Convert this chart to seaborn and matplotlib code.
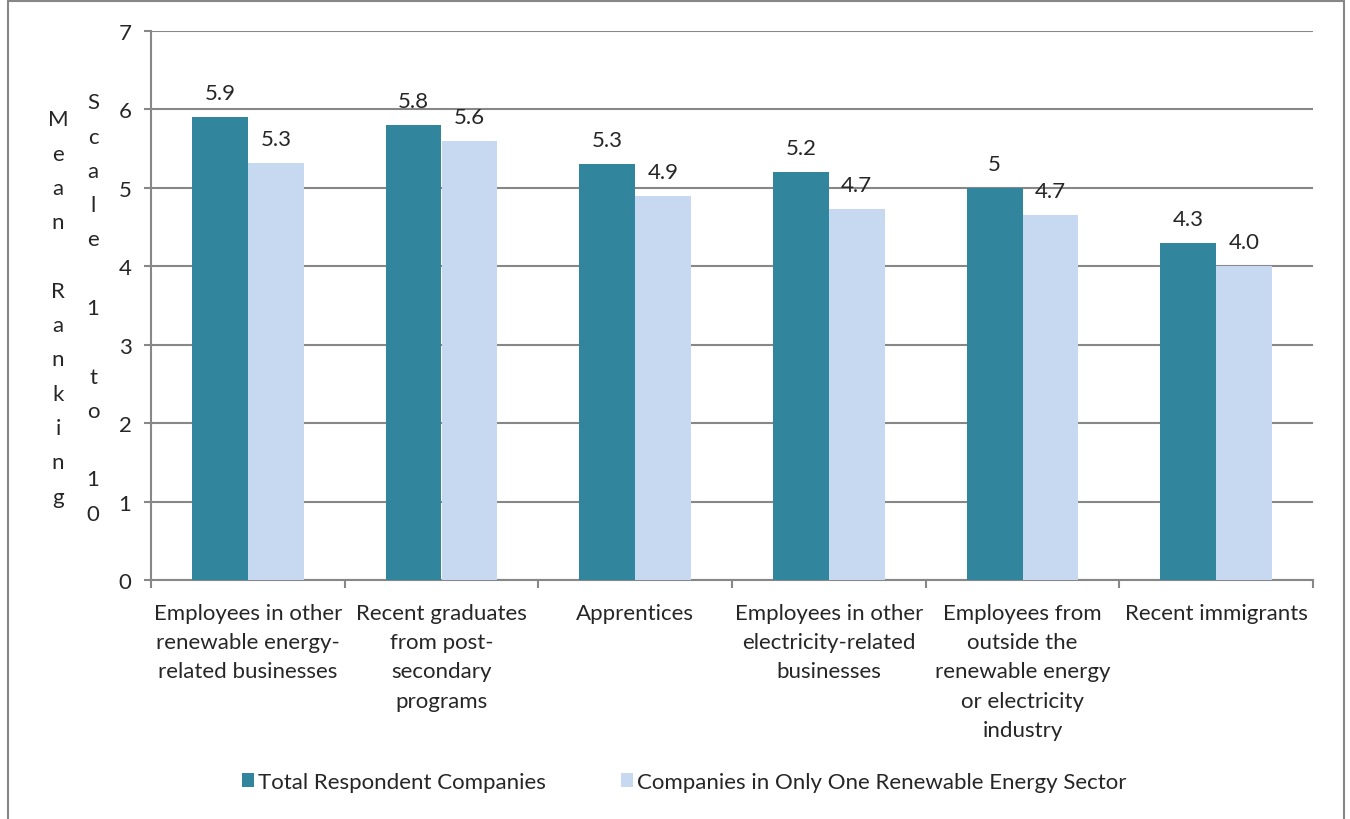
import matplotlib
matplotlib.use("Agg")
import matplotlib.pyplot as plt
import seaborn as sns
import pandas as pd
from matplotlib.lines import Line2D

categories = [
    "Employees in other\nrenewable energy-\nrelated businesses",
    "Recent graduates\nfrom post-\nsecondary\nprograms",
    "Apprentices",
    "Employees in other\nelectricity-related\nbusinesses",
    "Employees from\noutside the\nrenewable energy\nor electricity\nindustry",
    "Recent immigrants",
]
series_names = ["Total Respondent Companies",
                "Companies in Only One Renewable Energy Sector"]
total_values = [5.9, 5.8, 5.3, 5.2, 5.0, 4.3]
single_sector_values = [5.32, 5.60, 4.90, 4.73, 4.65, 4.00]
y_ticks = [0, 1, 2, 3, 4, 5, 6, 7]
ylabel_lines = ["Mean Ranking", "Scale 1 to 10"]

colors = ["#31859C", "#C6D9F1"]
grid_color = "#878787"

sns.set_theme(style="white")
plt.rcParams["font.family"] = ["Lato", "DejaVu Sans"]
FS = 16

df = pd.DataFrame({
    "category": categories * 2,
    "series": [series_names[0]] * len(categories) + [series_names[1]] * len(categories),
    "value": total_values + single_sector_values,
})

W, H = 1350, 820
fig = plt.figure(figsize=(W / 100, H / 100), dpi=100)
ax = fig.add_axes([151 / W, 1 - 581 / H, (1313 - 151) / W, (581 - 32) / H])

sns.barplot(data=df, x="category", y="value", hue="series", order=categories,
            hue_order=series_names, palette=colors, width=0.578, gap=0,
            saturation=1, edgecolor="none", linewidth=0, ax=ax, legend=False,
            zorder=3)

ax.set_xlim(-0.5, len(categories) - 0.5)
ax.set_ylim(0, 7)
ax.set_yticks(y_ticks)
ax.set_yticklabels([str(t) for t in y_ticks], fontsize=FS)
ax.yaxis.grid(True, color=grid_color, linewidth=1.5, zorder=0)
ax.set_axisbelow(True)

# category labels centered, tick marks at group boundaries
ax.set_xticks(range(len(categories)))
ax.set_xticklabels(categories, fontsize=FS, linespacing=1.58, va="top")
ax.set_xticks([i - 0.5 for i in range(len(categories) + 1)], minor=True)
ax.tick_params(axis="x", which="major", length=0, pad=16.5)
ax.tick_params(axis="x", which="minor", length=6, width=1.5, color=grid_color,
               bottom=True, direction="out")
ax.tick_params(axis="y", length=5, width=1.5, color=grid_color, left=True,
               direction="out", pad=9)
ax.set_xlabel("")
ax.set_ylabel("")

for side in ["top", "right"]:
    ax.spines[side].set_visible(False)
for side in ["left", "bottom"]:
    ax.spines[side].set_color(grid_color)
    ax.spines[side].set_linewidth(1.5)

# value labels
ax.bar_label(ax.containers[0], labels=[f"{v:g}" for v in total_values],
             padding=10, fontsize=FS)
ax.bar_label(ax.containers[1], labels=[f"{v:.1f}" for v in single_sector_values],
             padding=10, fontsize=FS)

# stacked y-axis title, one column per line
step = 34.3
for col_x, line in zip([58, 93], ylabel_lines):
    n = len(line)
    center = 309
    start = center - step * (n - 1) / 2
    for i, ch in enumerate(line):
        if ch == " ":
            continue
        fig.text(col_x / W, 1 - (start + i * step) / H, ch, fontsize=FS,
                 ha="center", va="center")

# legend
handles = [plt.Rectangle((0, 0), 1, 1, facecolor=c, edgecolor="none") for c in colors]
fig.legend(handles, series_names, loc="center", bbox_to_anchor=(684 / W, 1 - 783 / H),
           ncol=2, frameon=False, fontsize=FS, handlelength=0.55, handleheight=0.55,
           handletextpad=0.15, columnspacing=3.4)

# outer chart frame
frame_kw = dict(color=grid_color, linewidth=1.5, transform=fig.transFigure)
fig.add_artist(Line2D([8 / W, 8 / W], [0, 1 - 2 / H], **frame_kw))
fig.add_artist(Line2D([8 / W, 1344 / W], [1 - 2 / H, 1 - 2 / H], **frame_kw))
fig.add_artist(Line2D([1344 / W, 1344 / W], [0, 1 - 2 / H], **frame_kw))

fig.savefig("out.png", dpi=100)
